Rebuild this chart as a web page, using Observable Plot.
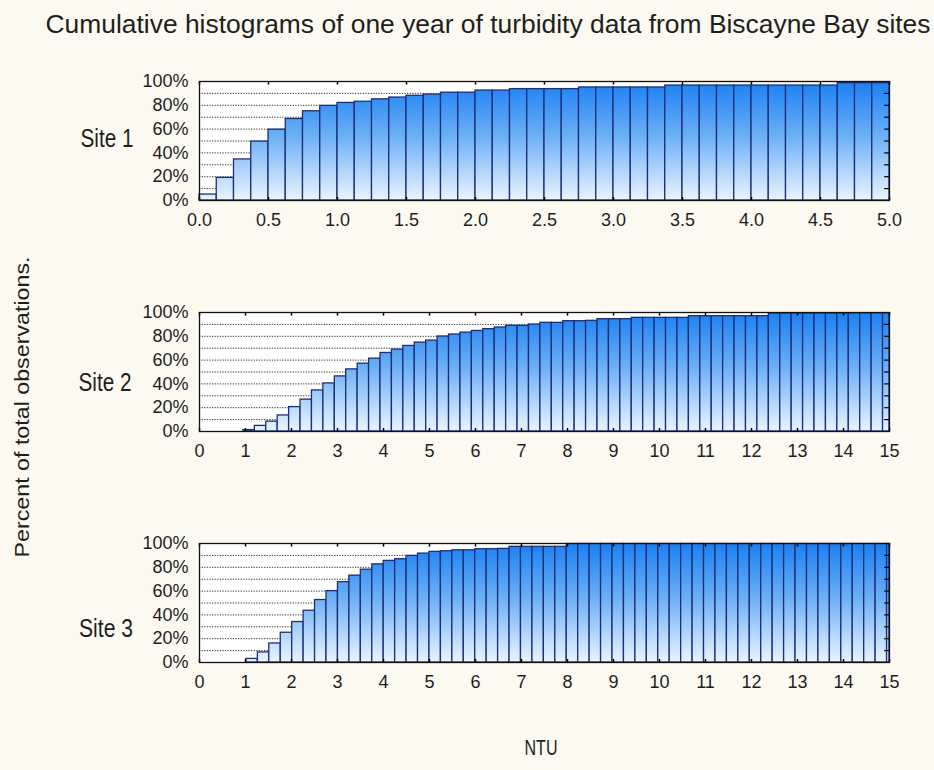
<!DOCTYPE html>
<html><head><meta charset="utf-8">
<script src="https://cdn.jsdelivr.net/npm/d3@7"></script>
<script src="https://cdn.jsdelivr.net/npm/@observablehq/plot@0.6"></script>
<style>
html,body{margin:0;padding:0;background:#fcf9f0;}
#root{position:relative;width:934px;height:770px;overflow:hidden;background:#fcf9f0;font-family:"Liberation Sans",Arial,sans-serif;}
.lbl{position:absolute;white-space:nowrap;line-height:1;color:#1e1e1e;font-family:"Liberation Sans",Arial,sans-serif;}
.panel{position:absolute;left:0;}
</style></head><body><div id="root"></div>
<script>
// ---- texts ----
const chartTitle = "Cumulative histograms of one year of turbidity data from Biscayne Bay sites";
const yAxisTitle = "Percent of total observations.";
const xAxisTitle = "NTU";
const siteNames = ["Site 1", "Site 2", "Site 3"];

// ---- cumulative percentages per bin ----
const site1Cum = [5, 19, 34.5, 49.5, 59.5, 68.5, 75, 79.5, 82, 83, 85, 86.5, 88, 89, 90.6, 90.6,
  92.4, 92.4, 93.6, 93.6, 93.6, 93.6, 95, 95, 95, 95, 95,
  96.6, 96.6, 96.6, 96.6, 96.6, 96.6, 96.6, 96.6, 96.6, 96.6, 98.6, 98.6, 98.6];
const site2Cum = [1.2, 4.7, 8.3, 13.5, 20.5, 26.8, 34.5, 40.4, 46.3, 52.2, 57, 61.2, 66, 68.8, 71.9,
  74.7, 76.4, 79.8, 81.5, 83.1, 84.5, 86, 87.4, 88.8, 88.8, 89.9, 91.3, 91.3, 92.7, 92.7, 93,
  94.4, 94.4, 94.4, 95.5, 95.5, 95.5, 95.5, 95.5, 96.9, 96.9, 96.9, 96.9, 96.9, 96.9, 96.9,
  99.2, 99.2, 99.2, 99.2, 99.2, 99.2, 99.2, 99.4, 99.4, 99.4, 99.4];
const site3Cum = [3, 8.5, 16, 25, 34, 43.5, 52.5, 60, 67.5, 73, 78, 82.5, 85.4, 86.8, 89.6, 91.5,
  93, 93.5, 94.3, 94.3, 95.2, 95.2, 95.5, 97.2, 97.2, 97.2, 97.2, 97.2,
  99.6, 99.6, 99.6, 99.6, 99.6, 99.6, 99.6, 99.6, 99.6, 99.6, 99.6, 99.6, 99.6, 99.6, 99.6,
  99.6, 99.6, 99.6, 99.6, 99.6, 99.6, 99.6, 99.6, 99.6, 99.6, 99.6, 99.6, 99.6, 99.6];

// ---- bins (NTU) ----
const site1Bin = {start: 0, width: 0.125, max: 5};
const site2Bin = {start: 0.955, width: 0.2483, max: 15};
const site3Bin = {start: 1.02, width: 0.2487, max: 15};

// ---- tick labels ----
const site1XTicks = [0, 0.5, 1, 1.5, 2, 2.5, 3, 3.5, 4, 4.5, 5];
const site23XTicks = [0, 1, 2, 3, 4, 5, 6, 7, 8, 9, 10, 11, 12, 13, 14, 15];
const yTicks = [0, 20, 40, 60, 80, 100];
const yGrid = [10, 20, 30, 40, 50, 60, 70, 80, 90];

const root = document.getElementById("root");
const ns = "http://www.w3.org/2000/svg";

function panel(values, bin, xTicks, fmt, frameTop, gid) {
  const rows = values.map((v, i) => ({
    x1: bin.start + i * bin.width,
    x2: Math.min(bin.start + (i + 1) * bin.width, bin.max),
    y: v
  }));
  const mt = 12, mb = 40, innerH = 119;
  const span = bin.max;
  const svg = Plot.plot({
    width: 934, height: mt + innerH + mb,
    marginLeft: 199, marginRight: 45, marginTop: mt, marginBottom: mb,
    style: {background: "transparent", fontFamily: "'Liberation Sans', Arial, sans-serif", fontSize: "18px", color: "#1e1e1e", overflow: "visible"},
    x: {domain: [0, bin.max], ticks: xTicks, tickFormat: fmt, tickSize: 0, tickPadding: 13, label: null},
    y: {domain: [0, 100], ticks: yTicks, tickFormat: d => d + "%", tickSize: 0, tickPadding: 11, label: null},
    marks: [
      Plot.frame({fill: "#ffffff"}),
      Plot.ruleY(yGrid, {y: d => d, stroke: "#3a3a3a", strokeWidth: 1, strokeDasharray: "1.3,1.3"}),
      Plot.rect(rows, {x1: "x1", x2: "x2", y1: 0, y2: "y", fill: `url(#${gid})`, stroke: "#1b2f78", strokeWidth: 1.3}),
      Plot.ruleX(xTicks, {x: d => d, y1: 100, y2: 97, stroke: "#000", strokeWidth: 1.5}),
      Plot.ruleX(xTicks, {x: d => d, y1: 0, y2: 2.5, stroke: "#000", strokeWidth: 1.5}),
      Plot.ruleY(yGrid, {y: d => d, x1: bin.max, x2: bin.max - span * 0.007, stroke: "#000", strokeWidth: 1.2}),
      Plot.frame({stroke: "#111", strokeWidth: 1.3})
    ]
  });
  const defs = document.createElementNS(ns, "defs");
  defs.innerHTML = `<linearGradient id="${gid}" gradientUnits="userSpaceOnUse" x1="0" y1="${mt}" x2="0" y2="${mt + innerH}">
    <stop offset="0" stop-color="#1a7ff2"/><stop offset="0.45" stop-color="#6aaef6"/><stop offset="1" stop-color="#eaf4ff"/></linearGradient>`;
  svg.insertBefore(defs, svg.firstChild);
  svg.classList.add("panel");
  svg.style.top = (frameTop - mt) + "px";
  svg.style.position = "absolute";
  root.appendChild(svg);
}

panel(site1Cum, site1Bin, site1XTicks, d3.format(".1f"), 81, "g1");
panel(site2Cum, site2Bin, site23XTicks, d => String(d), 312, "g2");
panel(site3Cum, site3Bin, site23XTicks, d => String(d), 543, "g3");

function addText(str, cx, cy, fontSize, targetLen, rotate) {
  const d = document.createElement("div");
  d.className = "lbl";
  d.textContent = str;
  d.style.fontSize = fontSize + "px";
  root.appendChild(d);
  const w = d.getBoundingClientRect().width;
  const s = targetLen ? targetLen / w : 1;
  d.style.left = cx + "px";
  d.style.top = cy + "px";
  d.style.transform = `translate(-50%,-50%) ${rotate ? "rotate(-90deg)" : ""} scaleX(${s})`;
}

addText(chartTitle, 487.5, 24, 26, 885, false);
addText(siteNames[0], 106.5, 137.5, 26, 53, false);
addText(siteNames[1], 104.5, 382, 26, 53, false);
addText(siteNames[2], 105.5, 628, 26, 54, false);
addText(xAxisTitle, 541, 748, 22, 33, false);
addText(yAxisTitle, 22, 406.5, 20, 301, true);
</script></body></html>
